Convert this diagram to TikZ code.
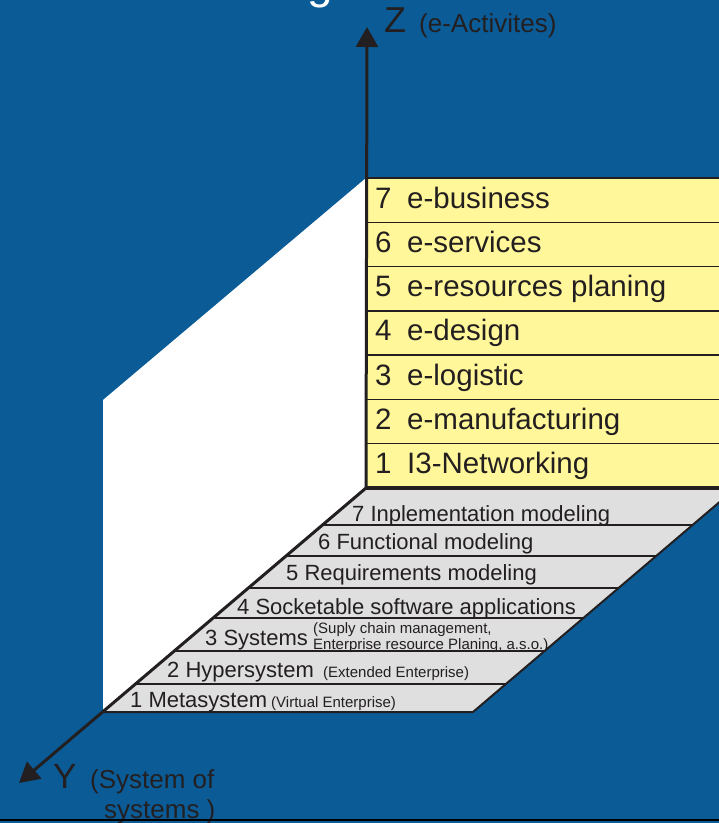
\documentclass[tikz,border=0pt]{standalone}
\usepackage{fontspec}
\setmainfont{Liberation Sans}
\usetikzlibrary{arrows.meta}
\definecolor{bg}{HTML}{0B5B97}
\definecolor{ink}{HTML}{231F20}
\definecolor{yel}{HTML}{FFF799}
\definecolor{flr}{HTML}{DFDFDF}
\tikzset{
  axis/.style={draw=ink, line width=3pt, -{Triangle[length=20pt,width=22pt]}},
  sep/.style={draw=ink, line width=1.5pt},
  edge/.style={draw=ink, line width=2pt},
  lbl/.style={anchor=base west, inner sep=0pt, text=ink},
  rowtxt/.style={lbl, font=\fontsize{29.5}{34}\selectfont},
  bigtxt/.style={lbl, font=\fontsize{22}{26}\selectfont},
  smalltxt/.style={lbl, font=\fontsize{15}{16}\selectfont},
  axtxt/.style={lbl, font=\fontsize{26}{30}\selectfont},
}
\begin{document}
\begin{tikzpicture}[x=1pt,y=-1pt]
\useasboundingbox (0,0) rectangle (719,823);
\clip (0,0) rectangle (719,823);
\fill[bg] (0,0) rectangle (719,823);
% cut-off title fragment
\node[anchor=base west, inner sep=0pt, text=white, font=\fontsize{46}{50}\selectfont] (title) at (307,-2) {g};
% coordinates
\coordinate (O) at (366,488);
\coordinate (Ztip) at (367,27);
\coordinate (Ytip) at (19,783);
% white wall
\fill[white] (103,400) -- (366,178) -- (O) -- (103,712) -- cycle;
% floor
\fill[flr] (O) -- (736,488) -- (473,712) -- (103,712) -- cycle;
\draw[edge] (736,488) -- (473,712) -- (103,712);
\foreach \yy in {525,556,588,618,651,684}{
  \pgfmathsetmacro\xl{366-(\yy-488)/224*263}
  \pgfmathsetmacro\xr{\xl+370}
  \draw[sep] (\xl,\yy) -- (\xr,\yy);
}
% yellow stack
\fill[yel] (367,178) rectangle (725,488);
\foreach \i in {0,...,6}{
  \pgfmathsetmacro\yy{178+\i*44.2857}
  \draw[sep] (367,\yy) -- (725,\yy);
}
\draw[draw=ink, line width=3.5pt] (O) -- (725,488);
\foreach \n/\t [count=\k from 0] in {7/e-business,6/e-services,5/e-resources planing,4/e-design,3/e-logistic,2/e-manufacturing,1/I3-Networking}{
  \pgfmathsetmacro\yy{178+\k*44.2857+30}
  \node[rowtxt] (n\n) at (375,\yy) {\n};
  \node[rowtxt] (r\n) at (407,\yy) {\t};
}
% axes
\draw[axis] (O) -- (Ztip);
\draw[axis] (O) -- (Ytip);
% floor texts
\node[bigtxt] (f7) at (352,521) {7 Inplementation modeling};
\node[bigtxt] (f6) at (318,549) {6 Functional modeling};
\node[bigtxt] (f5) at (286,580) {5 Requirements modeling};
\node[bigtxt] (f4) at (237,614) {4 Socketable software applications};
\node[bigtxt] (f3) at (205,645) {3 Systems};
\node[smalltxt] (f3a) at (313,633) {(Suply chain management,};
\node[smalltxt] (f3b) at (313,649) {Enterprise resource Planing, a.s.o.)};
\node[bigtxt] (f2) at (167,677) {2 Hypersystem};
\node[smalltxt] (f2a) at (323,677) {(Extended Enterprise)};
\node[bigtxt] (f1) at (130,707) {1 Metasystem};
\node[smalltxt] (f1a) at (271,707) {(Virtual Enterprise)};
% axis labels
\node[lbl, font=\fontsize{36}{40}\selectfont] (zl) at (384,32) {Z};
\node[axtxt] (zt) at (419,32) {(e-Activites)};
\node[lbl, font=\fontsize{35}{40}\selectfont] (yl) at (53,788) {Y};
\node[axtxt] (yt1) at (90,788) {(System of};
\node[axtxt] (yt2) at (104,818) {systems )};
% bottom rule
\draw[draw=black, line width=2pt] (0,820) -- (719,820);
\end{tikzpicture}
\end{document}
